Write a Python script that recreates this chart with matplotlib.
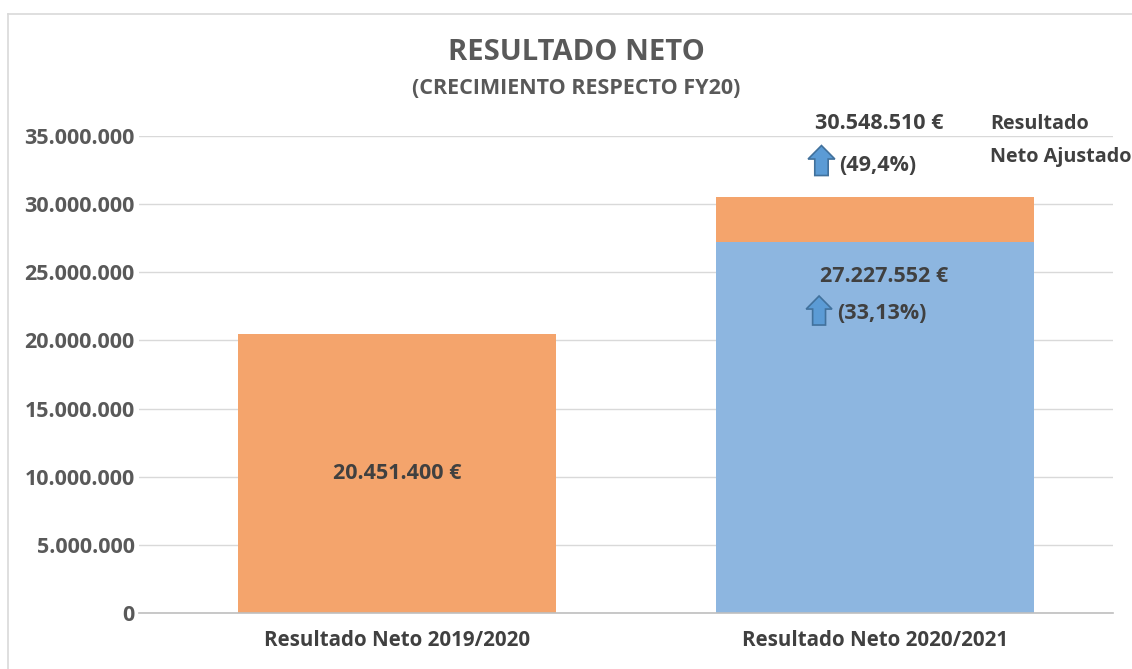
import matplotlib
matplotlib.use("Agg")
import matplotlib.pyplot as plt
from matplotlib.patches import Polygon
from matplotlib.lines import Line2D
from matplotlib.ticker import FuncFormatter

categories = ["Resultado Neto 2019/2020", "Resultado Neto 2020/2021"]
resultado_neto = [20451400, 27227552]
ajuste = [0, 30548510 - 27227552]
label_neto = ["20.451.400 €", "27.227.552 €"]
label_ajustado = "30.548.510 €"
growth_neto = "(33,13%)"
growth_ajustado = "(49,4%)"
yticks = [0, 5000000, 10000000, 15000000, 20000000, 25000000, 30000000, 35000000]

plt.rcParams['font.family'] = ['Open Sans', 'DejaVu Sans']
W, H = 1132, 669
fig = plt.figure(figsize=(W / 100, H / 100), dpi=100)
fig.patch.set_facecolor('white')

def fx(px):
    return px / W

def fy(py):
    return 1 - py / H

ax = fig.add_axes([fx(139), fy(613), fx(1113) - fx(139), fy(136) - fy(613)])

orange = '#F4A46C'
blue = '#8DB6E0'
txt = '#404040'
tick_c = '#595959'

colors_base = [orange, blue]
x = [0, 1]
ax.bar(x, resultado_neto, width=0.665, color=colors_base, zorder=2)
ax.bar(x, ajuste, width=0.665, bottom=resultado_neto, color=orange, zorder=2)

ax.set_xlim(-0.540, 1.498)
ax.set_ylim(0, 35000000)
ax.set_yticks(yticks)
ax.yaxis.set_major_formatter(FuncFormatter(lambda v, p: f"{int(v):,}".replace(",", ".")))
ax.grid(axis='y', color='#D9D9D9', lw=1, zorder=0)
ax.set_xticks(x)
ax.set_xticklabels(categories)
for s in ['top', 'right', 'left']:
    ax.spines[s].set_visible(False)
ax.spines['bottom'].set_color('#BFBFBF')
ax.spines['bottom'].set_linewidth(1.2)
ax.tick_params(axis='y', length=0, labelsize=15.5, labelcolor=tick_c, pad=3)
ax.tick_params(axis='x', length=0, labelsize=14.8, labelcolor=txt, pad=12)
for lab in ax.get_xticklabels() + ax.get_yticklabels():
    lab.set_fontweight('bold')

fs = 15.5
ax.text(0, resultado_neto[0] / 2, label_neto[0], ha='center', va='center',
        fontsize=fs, fontweight='bold', color=txt, zorder=3)
ax.text(1.019, 24660000, label_neto[1], ha='center', va='center',
        fontsize=fs, fontweight='bold', color=txt, zorder=3)
ax.text(0.920, 22000000, growth_neto, ha='left', va='center',
        fontsize=fs, fontweight='bold', color=txt, zorder=3)
ax.text(1.008, 35900000, label_ajustado, ha='center', va='center',
        fontsize=fs, fontweight='bold', color=txt, clip_on=False, zorder=3)
ax.text(0.924, 32800000, growth_ajustado, ha='left', va='center',
        fontsize=fs, fontweight='bold', color=txt, clip_on=False, zorder=3)


def up_arrow(x0, x1, y0, y1):
    xm = (x0 + x1) / 2
    tw = (x1 - x0) * 0.25
    hy = y1 - (y1 - y0) * 0.45
    pts = [(xm - tw, y0), (xm + tw, y0), (xm + tw, hy), (x1, hy), (xm, y1),
           (x0, hy), (xm - tw, hy)]
    p = Polygon(pts, closed=True, facecolor='#5B9BD5', edgecolor='#41719C',
                lw=1.2, zorder=4, clip_on=False)
    ax.add_patch(p)

up_arrow(0.860, 0.916, 32100000, 34300000)
up_arrow(0.856, 0.910, 21130000, 23260000)

fig.text(fx(990), fy(124), "Resultado", ha='left', va='center', fontsize=14.2,
         fontweight='bold', color=txt)
fig.text(fx(990), fy(157), "Neto Ajustado", ha='left', va='center', fontsize=14.2,
         fontweight='bold', color=txt)

fig.text(fx(576), fy(52), "RESULTADO NETO", ha='center', va='center',
         fontsize=21, fontweight='bold', color=tick_c)
fig.text(fx(576), fy(89), "(CRECIMIENTO RESPECTO FY20)", ha='center', va='center',
         fontsize=15.5, fontweight='bold', color=tick_c)

fig.add_artist(Line2D([fx(8), fx(8)], [0, fy(14)], transform=fig.transFigure,
                      color='#D9D9D9', lw=1.2))
fig.add_artist(Line2D([fx(8), 1.0], [fy(14), fy(14)], transform=fig.transFigure,
                      color='#D9D9D9', lw=1.2))

fig.savefig("out.png", dpi=100)
